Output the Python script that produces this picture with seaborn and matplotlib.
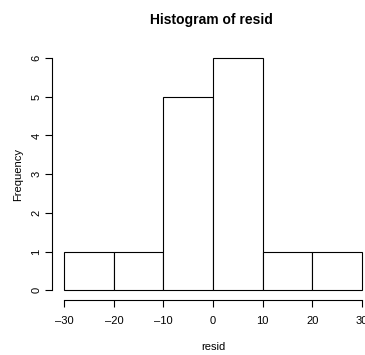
import matplotlib
matplotlib.use("Agg")
import matplotlib.pyplot as plt
import seaborn as sns
import numpy as np

bin_edges = [-30, -20, -10, 0, 10, 20, 30]
bin_mids = [-25, -15, -5, 5, 15, 25]
counts = [1, 1, 5, 6, 1, 1]
x_ticks = [-30, -20, -10, 0, 10, 20, 30]
y_ticks = [0, 1, 2, 3, 4, 5, 6]

sns.set_style("white")
plt.rcParams['font.family'] = ['Liberation Sans Narrow', 'Liberation Sans', 'DejaVu Sans']
plt.rcParams['text.color'] = 'black'
plt.rcParams['axes.labelcolor'] = 'black'
plt.rcParams['xtick.color'] = 'black'
plt.rcParams['ytick.color'] = 'black'

fig = plt.figure(figsize=(3.65, 3.55), dpi=100)
ax = fig.add_axes([0.1436, 0.156, 0.88, 0.7068])

sns.histplot(x=bin_mids, weights=counts, bins=bin_edges, color="white",
             edgecolor="black", linewidth=0.8, alpha=1, ax=ax)

ax.set_xlim(-32.4, 32.4)
ax.set_ylim(-0.24, 6.24)
for s in ["top", "right"]:
    ax.spines[s].set_visible(False)
ax.spines["bottom"].set_bounds(-30, 30)
ax.spines["left"].set_bounds(0, 6)
for s in ["bottom", "left"]:
    ax.spines[s].set_color("black")
    ax.spines[s].set_linewidth(0.8)
ax.set_xticks(x_ticks)
ax.set_xticklabels([str(v).replace("-", "\u2013") for v in x_ticks])
ax.set_yticks(y_ticks)
ax.set_yticklabels([str(v) for v in y_ticks], rotation=90, va="center")
ax.tick_params(axis="both", which="both", direction="out", length=5, width=0.8,
               color="black", labelsize=8, bottom=True, left=True)
ax.tick_params(axis="x", pad=7)
ax.tick_params(axis="y", pad=3)
ax.set_xlabel("resid", fontsize=8, labelpad=11)
ax.set_ylabel("Frequency", fontsize=8, labelpad=6)
fig.text(0.58, 1 - 20 / 355, "Histogram of resid", ha="center", va="center",
         fontsize=10, fontweight="bold")

fig.savefig("out.png", dpi=100)
